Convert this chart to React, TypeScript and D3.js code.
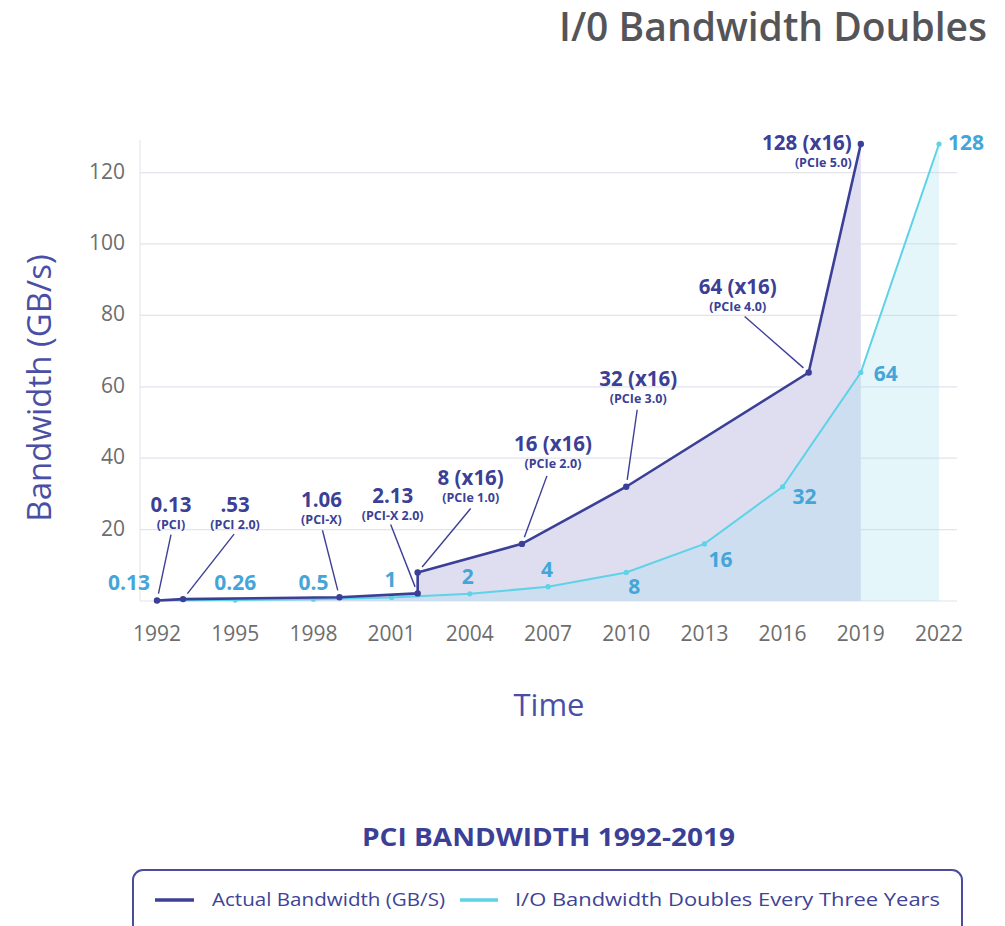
import React, { useEffect, useRef } from 'react'
import * as d3 from 'd3'

// actual PCI bandwidth
const actualYears = [1992, 1993, 1999, 2002, 2002, 2006, 2010, 2017, 2019]
const actualValues = [0.13, 0.53, 1.06, 2.13, 8, 16, 32, 64, 128]
const actualLabels = ['0.13', '.53', '1.06', '2.13', '8 (x16)', '16 (x16)', '32 (x16)', '64 (x16)', '128 (x16)']
const actualSubLabels = ['(PCI)', '(PCI 2.0)', '(PCI-X)', '(PCI-X 2.0)', '(PCIe 1.0)', '(PCIe 2.0)', '(PCIe 3.0)', '(PCIe 4.0)', '(PCIe 5.0)']

// doubling every three years
const doublingYears = [1992, 1995, 1998, 2001, 2004, 2007, 2010, 2013, 2016, 2019, 2022]
const doublingValues = [0.13, 0.26, 0.5, 1, 2, 4, 8, 16, 32, 64, 128]
const doublingLabels = ['0.13', '0.26', '0.5', '1', '2', '4', '8', '16', '32', '64', '128']

const xTicks = [1992, 1995, 1998, 2001, 2004, 2007, 2010, 2013, 2016, 2019, 2022]
const yTicks = [0, 20, 40, 60, 80, 100, 120]

// label placement (pixels, relative to the point)
const actualLabelOffsets = [[14, -89], [52, -87], [-18, -90], [-25, -90], [53, -87], [31, -93], [12, -101], [-71, -79], [-9, 6]]
const actualLeaderOffsets = [[14, -66], [51, -65], [-17, -67], [-27, -69], [53, -64], [25, -68], [11, -77], [-64, -56], null]
const doublingLabelOffsets = [[-28, -11], [0, -10], [0, -9], [-1, -10], [-2, -10], [-1, -10], [8, 22], [16, 23], [22, 17], [25, 8.5], [9, 6]]

const NAVY = '#3c3f96'
const CYAN = '#5fd2e8'
const CYAN_TEXT = '#44a6d8'
const FONT = "'Open Sans', 'Noto Sans', sans-serif"

export default function App() {
  const ref = useRef<SVGSVGElement>(null)

  useEffect(() => {
    const svg = d3.select(ref.current)
    svg.selectAll('*').remove()

    const x = d3.scaleLinear().domain([1992, 2022]).range([157, 939])
    const y = d3.scaleLinear().domain([0, 128]).range([601, 144])

    const g = svg.append('g').style('font-family', FONT)

    // title
    g.append('text').attr('x', 987).attr('y', 41).attr('text-anchor', 'end')
      .attr('font-size', 39).attr('font-weight', 600).attr('fill', '#555559')
      .text('I/0 Bandwidth Doubles')

    // grid
    g.append('line').attr('x1', 140).attr('x2', 140).attr('y1', 140).attr('y2', 601)
      .attr('stroke', '#e6e6ef').attr('stroke-width', 1.2)
    g.selectAll('.grid').data(yTicks).enter().append('line')
      .attr('x1', 140).attr('x2', 957)
      .attr('y1', d => y(d)).attr('y2', d => y(d))
      .attr('stroke', '#e3e3ec').attr('stroke-width', 1.2)

    // y tick labels
    g.selectAll('.ytick').data(yTicks.filter(d => d > 0)).enter().append('text')
      .attr('x', 125).attr('y', d => y(d) + 6).attr('text-anchor', 'end')
      .attr('font-size', 21).attr('fill', '#6d6d6d').text(d => d)

    // x tick labels
    g.selectAll('.xtick').data(xTicks).enter().append('text')
      .attr('x', d => x(d)).attr('y', 641).attr('text-anchor', 'middle')
      .attr('font-size', 21).attr('fill', '#6d6d6d').text(d => d)

    // axis titles
    g.append('text').attr('transform', 'translate(51,388) rotate(-90)')
      .attr('text-anchor', 'middle').attr('font-size', 33).attr('fill', '#4a4fa6')
      .text('Bandwidth (GB/s)')
    g.append('text').attr('x', 549).attr('y', 716).attr('text-anchor', 'middle')
      .attr('font-size', 31).attr('fill', '#4a4fa6').text('Time')

    const actual = actualYears.map((yr, i) => ({ yr, v: actualValues[i] }))
    const doubling = doublingYears.map((yr, i) => ({ yr, v: doublingValues[i] }))

    const area = d3.area<{ yr: number, v: number }>()
      .x(d => x(d.yr)).y0(y(0)).y1(d => y(d.v))
    const line = d3.line<{ yr: number, v: number }>()
      .x(d => x(d.yr)).y(d => y(d.v))

    // fills
    g.append('path').attr('d', area(actual)).attr('fill', '#dedef0')
    g.append('path').attr('d', area(doubling)).attr('fill', 'rgba(160,220,242,0.27)')

    // doubling line
    g.append('path').attr('d', line(doubling)).attr('fill', 'none')
      .attr('stroke', CYAN).attr('stroke-width', 2)
    g.selectAll('.ddot').data(doubling).enter().append('circle')
      .attr('cx', d => x(d.yr)).attr('cy', d => y(d.v)).attr('r', 2.6).attr('fill', CYAN)

    // actual line
    g.append('path').attr('d', line(actual)).attr('fill', 'none')
      .attr('stroke', NAVY).attr('stroke-width', 2.6)
    g.selectAll('.adot').data(actual).enter().append('circle')
      .attr('cx', d => x(d.yr)).attr('cy', d => y(d.v)).attr('r', 3.2).attr('fill', NAVY)

    // leader lines
    actual.forEach((d, i) => {
      const off = actualLeaderOffsets[i]
      if (!off) return
      const px = x(d.yr), py = y(d.v)
      const sx = px + off[0], sy = py + off[1]
      const len = Math.hypot(off[0], off[1])
      const ex = px + off[0] / len * 7, ey = py + off[1] / len * 7
      g.append('line').attr('x1', sx).attr('y1', sy).attr('x2', ex).attr('y2', ey)
        .attr('stroke', NAVY).attr('stroke-width', 1.4)
    })

    // actual labels
    actual.forEach((d, i) => {
      const [dx, dy] = actualLabelOffsets[i]
      const px = x(d.yr) + dx, py = y(d.v) + dy
      const anchor = i === actual.length - 1 ? 'end' : 'middle'
      g.append('text').attr('x', px).attr('y', py).attr('text-anchor', anchor)
        .attr('font-size', 20.5).attr('font-weight', 700).attr('fill', NAVY)
        .text(actualLabels[i])
      g.append('text').attr('x', px).attr('y', py + 17).attr('text-anchor', anchor)
        .attr('font-size', 12.5).attr('font-weight', 700).attr('fill', NAVY)
        .text(actualSubLabels[i])
    })

    // doubling labels
    doubling.forEach((d, i) => {
      const [dx, dy] = doublingLabelOffsets[i]
      g.append('text').attr('x', x(d.yr) + dx).attr('y', y(d.v) + dy)
        .attr('text-anchor', i === doubling.length - 1 ? 'start' : 'middle')
        .attr('font-size', 21).attr('font-weight', 700).attr('fill', CYAN_TEXT)
        .text(doublingLabels[i])
    })

    // legend
    g.append('text').attr('x', 362).attr('y', 846)
      .attr('font-size', 25).attr('font-weight', 700).attr('fill', NAVY)
      .attr('textLength', 373).attr('lengthAdjust', 'spacingAndGlyphs')
      .text('PCI BANDWIDTH 1992-2019')
    g.append('rect').attr('x', 133).attr('y', 870).attr('width', 829).attr('height', 90)
      .attr('rx', 10).attr('fill', 'white').attr('stroke', '#4a4c9e').attr('stroke-width', 2)
    g.append('line').attr('x1', 155).attr('x2', 194).attr('y1', 900).attr('y2', 900)
      .attr('stroke', NAVY).attr('stroke-width', 3.5)
    g.append('text').attr('x', 212).attr('y', 906).attr('font-size', 19).attr('fill', '#3e4396')
      .attr('textLength', 233).attr('lengthAdjust', 'spacingAndGlyphs')
      .text('Actual Bandwidth (GB/S)')
    g.append('line').attr('x1', 460).attr('x2', 498).attr('y1', 900).attr('y2', 900)
      .attr('stroke', CYAN).attr('stroke-width', 3.5)
    g.append('text').attr('x', 515).attr('y', 906).attr('font-size', 19).attr('fill', '#3e4396')
      .attr('textLength', 425).attr('lengthAdjust', 'spacingAndGlyphs')
      .text('I/O Bandwidth Doubles Every Three Years')
  }, [])

  return (
    <svg ref={ref} width={1005} height={926}
      style={{ position: 'absolute', left: 0, top: 0, background: 'white' }} />
  )
}
